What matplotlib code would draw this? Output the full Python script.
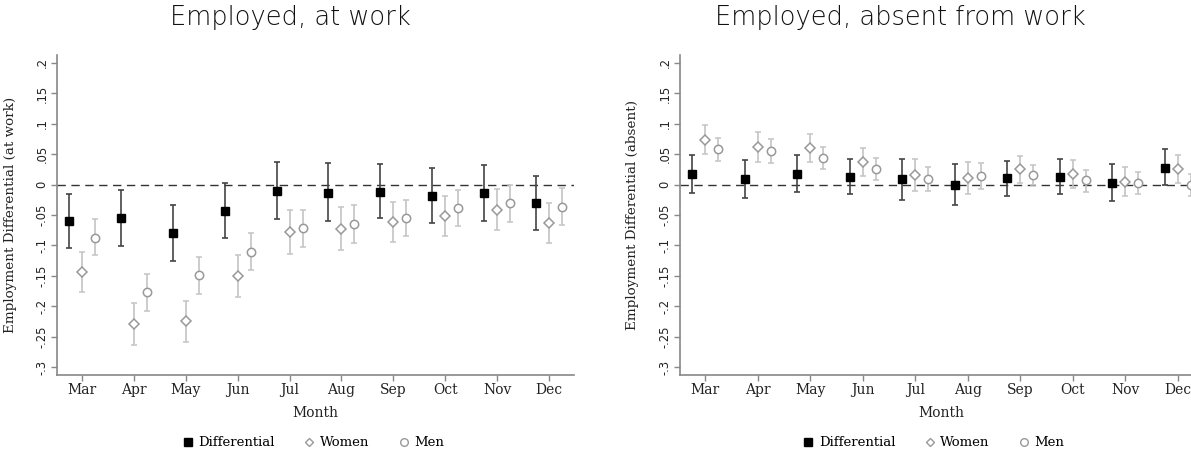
import matplotlib as mpl
import matplotlib.pyplot as plt
import numpy as np
from matplotlib.lines import Line2D

months = ['Mar', 'Apr', 'May', 'Jun', 'Jul', 'Aug', 'Sep', 'Oct', 'Nov', 'Dec']

# Employed, at work
work_diff = [-0.060, -0.055, -0.079, -0.043, -0.010, -0.013, -0.012, -0.018, -0.014, -0.030]
work_diff_hi = [-0.015, -0.009, -0.033, 0.003, 0.038, 0.036, 0.034, 0.027, 0.032, 0.015]
work_diff_lo = [-0.104, -0.101, -0.125, -0.087, -0.057, -0.060, -0.055, -0.063, -0.059, -0.075]
work_women = [-0.143, -0.229, -0.225, -0.150, -0.078, -0.073, -0.062, -0.052, -0.041, -0.063]
work_women_hi = [-0.110, -0.195, -0.191, -0.116, -0.042, -0.036, -0.028, -0.019, -0.007, -0.030]
work_women_lo = [-0.176, -0.263, -0.258, -0.184, -0.114, -0.108, -0.094, -0.085, -0.075, -0.096]
work_men = [-0.087, -0.177, -0.149, -0.110, -0.072, -0.065, -0.055, -0.038, -0.031, -0.036]
work_men_hi = [-0.057, -0.147, -0.119, -0.080, -0.042, -0.034, -0.025, -0.009, 0.000, -0.006]
work_men_lo = [-0.116, -0.208, -0.179, -0.140, -0.102, -0.096, -0.085, -0.068, -0.061, -0.066]

# Employed, absent from work
abs_diff = [0.018, 0.009, 0.018, 0.013, 0.009, -0.001, 0.011, 0.013, 0.003, 0.028]
abs_diff_hi = [0.048, 0.041, 0.048, 0.042, 0.042, 0.034, 0.039, 0.042, 0.034, 0.058]
abs_diff_lo = [-0.013, -0.022, -0.012, -0.016, -0.025, -0.034, -0.018, -0.016, -0.027, 0.000]
abs_women = [0.074, 0.062, 0.061, 0.038, 0.016, 0.011, 0.025, 0.018, 0.004, 0.026]
abs_women_hi = [0.098, 0.087, 0.084, 0.061, 0.042, 0.038, 0.047, 0.041, 0.029, 0.049]
abs_women_lo = [0.051, 0.038, 0.038, 0.015, -0.011, -0.015, 0.003, -0.005, -0.019, 0.003]
abs_men = [0.058, 0.055, 0.044, 0.026, 0.010, 0.015, 0.016, 0.007, 0.002, -0.001]
abs_men_hi = [0.077, 0.075, 0.062, 0.044, 0.029, 0.036, 0.033, 0.024, 0.021, 0.017]
abs_men_lo = [0.039, 0.036, 0.026, 0.008, -0.010, -0.007, 0.000, -0.012, -0.016, -0.018]

yticks = [0.2, 0.15, 0.1, 0.05, 0, -0.05, -0.1, -0.15, -0.2, -0.25, -0.3]
ytick_labels = ['.2', '.15', '.1', '.05', '0', '-.05', '-.1', '-.15', '-.2', '-.25', '-.3']

dpi = 100
fig = plt.figure(dpi=dpi, figsize=(1191 / dpi, 459 / dpi))
mpl.rcParams.update({'font.size': 9})

spine_col = '#888888'
text_col = '#222222'
x = np.arange(1, 11)


def panel(ax, diff, dhi, dlo, wom, whi, wlo, men, mhi, mlo, ylabel, cx):
    d = np.array(diff); w = np.array(wom); m = np.array(men)
    ax.axhline(0, color='#333333', lw=1, ls=(0, (6, 4)), zorder=1)
    ax.errorbar(x - 0.25, d, yerr=[d - np.array(dlo), np.array(dhi) - d],
                fmt='s', color='black', ms=6, ecolor='#444444',
                elinewidth=1.2, capsize=2.4, capthick=1.2, zorder=3)
    ax.errorbar(x, w, yerr=[w - np.array(wlo), np.array(whi) - w],
                fmt='D', mfc='white', mec='#999999', mew=1.1, ms=5,
                ecolor='#c4c4c4', elinewidth=1.2, capsize=2.4, capthick=1.2, zorder=2)
    ax.errorbar(x + 0.25, m, yerr=[m - np.array(mlo), np.array(mhi) - m],
                fmt='o', mfc='white', mec='#999999', mew=1.1, ms=6,
                ecolor='#c4c4c4', elinewidth=1.2, capsize=2.4, capthick=1.2, zorder=2)
    ax.set_xlim(0.52, 10.48)
    ax.set_ylim(-0.313, 0.213)
    ax.set_xticks(x)
    ax.set_xticklabels(months, family='DejaVu Serif', fontsize=10)
    ax.set_yticks(yticks)
    ax.set_yticklabels(ytick_labels, rotation=90, va='center', fontsize=8.3,
                       family='DejaVu Sans')
    ax.tick_params(colors=spine_col, labelcolor=text_col, length=4, width=1, pad=2)
    ax.tick_params(axis='x', pad=1.5)
    for s in ['top', 'right']:
        ax.spines[s].set_visible(False)
    for s in ['left', 'bottom']:
        ax.spines[s].set_color(spine_col)
        ax.spines[s].set_linewidth(1.2)
    ax.set_xlabel('Month', family='DejaVu Serif', fontsize=10, color=text_col, va='center')
    ax.xaxis.set_label_coords(0.5, -0.119)
    ax.set_ylabel(ylabel, family='DejaVu Serif', fontsize=9.7, color=text_col, va='center')
    ax.yaxis.set_label_coords(-0.091, 0.5)
    handles = [
        Line2D([], [], ls='none', marker='s', color='black', ms=5.5),
        Line2D([], [], ls='none', marker='D', mfc='white', mec='#999999', ms=4.5),
        Line2D([], [], ls='none', marker='o', mfc='white', mec='#999999', ms=5.5),
    ]
    fig.legend(handles, ['Differential', 'Women', 'Men'], loc='center',
               bbox_to_anchor=(cx, 0.035), ncol=3, frameon=False,
               prop={'family': 'DejaVu Serif', 'size': 9.5},
               handletextpad=0.2, columnspacing=2.0, handlelength=1.2)


ax1 = fig.add_axes([0.0479, 0.183, 0.434, 0.697])
panel(ax1, work_diff, work_diff_hi, work_diff_lo, work_women, work_women_hi, work_women_lo,
      work_men, work_men_hi, work_men_lo, 'Employment Differential (at work)', 0.262)

ax2 = fig.add_axes([0.571, 0.183, 0.439, 0.697])
panel(ax2, abs_diff, abs_diff_hi, abs_diff_lo, abs_women, abs_women_hi, abs_women_lo,
      abs_men, abs_men_hi, abs_men_lo, 'Employment Differential (absent)', 0.783)

fig.text(0.2435, 1 - 25 / 459, 'Employed, at work', ha='center', va='baseline',
         family='DejaVu Sans', fontweight='light', fontsize=18.5, color='#111111')
fig.text(0.7557, 1 - 25 / 459, 'Employed, absent from work', ha='center', va='baseline',
         family='DejaVu Sans', fontweight='light', fontsize=18.5, color='#111111')

fig.savefig('out.png', dpi=dpi)
